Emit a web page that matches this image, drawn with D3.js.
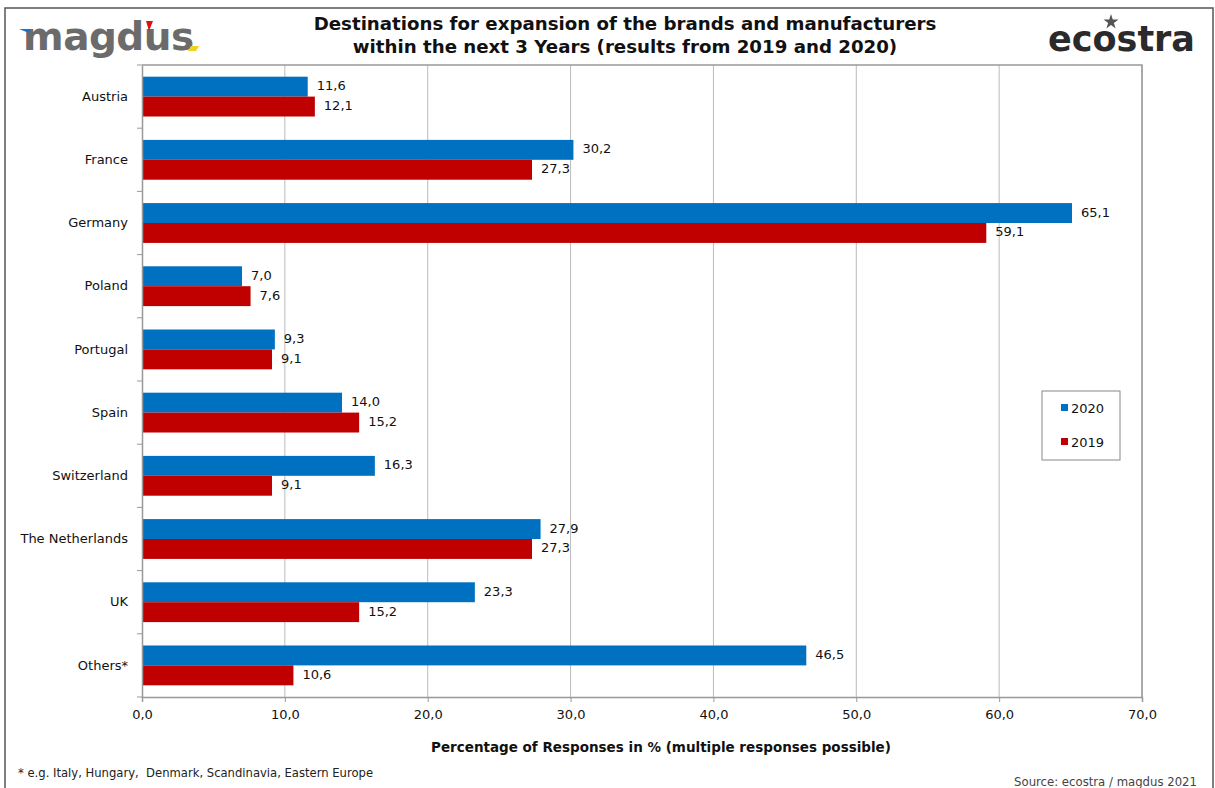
<!DOCTYPE html>
<html>
<head>
<meta charset="utf-8">
<script src="https://cdn.jsdelivr.net/npm/d3@7"></script>
<style>
  body { margin: 0; background: #fff; }
  text { font-family: "DejaVu Sans", Verdana, sans-serif; white-space: pre; }
</style>
</head>
<body>
<div id="chart"></div>
<script>
// data
var countries = ["Austria", "France", "Germany", "Poland", "Portugal", "Spain",
                 "Switzerland", "The Netherlands", "UK", "Others*"];
var values2020 = [11.6, 30.2, 65.1, 7.0, 9.3, 14.0, 16.3, 27.9, 23.3, 46.5];
var values2019 = [12.1, 27.3, 59.1, 7.6, 9.1, 15.2, 9.1, 27.3, 15.2, 10.6];
var seriesNames = ["2020", "2019"];
var seriesColors = ["#0070C0", "#C00000"];
var xTicks = [0, 10, 20, 30, 40, 50, 60, 70];

var width = 1215, height = 788;
var margin = {left: 142, right: 73, top: 65, bottom: 91};

var svg = d3.select("#chart").append("svg")
    .attr("width", width)
    .attr("height", height);

// outer frame
svg.append("rect")
    .attr("x", 5).attr("y", 8)
    .attr("width", 1208).attr("height", 790)
    .attr("fill", "none")
    .attr("stroke", "#555")
    .attr("stroke-width", 1.5);

var x = d3.scaleLinear().domain([0, 70]).range([margin.left, width - margin.right]);
var y = d3.scaleBand().domain(countries).range([margin.top, height - margin.bottom])
    .paddingInner(0.37).paddingOuter(0.185);
var ySub = d3.scaleBand().domain(seriesNames).range([0, y.bandwidth()]);

// gridlines
svg.append("g").selectAll("line")
    .data(xTicks.slice(1))
    .enter().append("line")
    .attr("x1", function (d) { return x(d); })
    .attr("x2", function (d) { return x(d); })
    .attr("y1", margin.top)
    .attr("y2", height - margin.bottom)
    .attr("stroke", "#bbb")
    .attr("stroke-width", 1);

// plot border (top + right)
svg.append("path")
    .attr("d", "M" + x(0) + "," + margin.top + "H" + x(70) + "V" + (height - margin.bottom))
    .attr("fill", "none")
    .attr("stroke", "#999")
    .attr("stroke-width", 1.5);

// bars
var rows = countries.map(function (c, i) {
    return {country: c, vals: [values2020[i], values2019[i]]};
});

var groups = svg.append("g").selectAll("g")
    .data(rows)
    .enter().append("g")
    .attr("transform", function (d) { return "translate(0," + y(d.country) + ")"; });

groups.selectAll("rect")
    .data(function (d) { return d.vals.map(function (v, k) { return {s: seriesNames[k], v: v, k: k}; }); })
    .enter().append("rect")
    .attr("x", x(0))
    .attr("y", function (d) { return ySub(d.s); })
    .attr("width", function (d) { return x(d.v) - x(0); })
    .attr("height", ySub.bandwidth())
    .attr("fill", function (d) { return seriesColors[d.k]; });

groups.selectAll("text")
    .data(function (d) { return d.vals.map(function (v, k) { return {s: seriesNames[k], v: v}; }); })
    .enter().append("text")
    .attr("x", function (d) { return x(d.v) + 9; })
    .attr("y", function (d) { return ySub(d.s) + ySub.bandwidth() / 2 - 1; })
    .attr("dy", "0.35em")
    .attr("font-size", 13)
    .attr("fill", "#111")
    .text(function (d) { return d.v.toFixed(1).replace(".", ","); });

// x axis
var xAxis = svg.append("g")
    .attr("transform", "translate(0," + (height - margin.bottom) + ")")
    .call(d3.axisBottom(x).tickValues(xTicks).tickSize(5).tickPadding(8)
        .tickFormat(function (d) { return d.toFixed(1).replace(".", ","); }));
xAxis.select(".domain").attr("stroke", "#999").attr("stroke-width", 1.5);
xAxis.selectAll(".tick line").attr("stroke", "#999");
xAxis.selectAll(".tick text").attr("font-size", 13).attr("fill", "#111")
    .attr("font-family", "DejaVu Sans, sans-serif");

// y axis
var yAxis = svg.append("g")
    .attr("transform", "translate(" + margin.left + ",0)")
    .call(d3.axisLeft(y).tickSize(0).tickPadding(14));
yAxis.select(".domain").attr("stroke", "#999").attr("stroke-width", 1.5);
yAxis.selectAll(".tick text").attr("font-size", 13).attr("fill", "#111")
    .attr("font-family", "DejaVu Sans, sans-serif");

// little ticks between categories
var step = y.step();
svg.append("g").selectAll("line")
    .data(d3.range(countries.length + 1))
    .enter().append("line")
    .attr("x1", margin.left - 5).attr("x2", margin.left)
    .attr("y1", function (i) { return margin.top + i * step; })
    .attr("y2", function (i) { return margin.top + i * step; })
    .attr("stroke", "#999");

// axis title
svg.append("text")
    .attr("x", 661)
    .attr("y", 752)
    .attr("text-anchor", "middle")
    .attr("font-size", 13.5)
    .attr("font-weight", "bold")
    .attr("fill", "#111")
    .text("Percentage of Responses in % (multiple responses possible)");

// title
var title = svg.append("text")
    .attr("text-anchor", "middle")
    .attr("font-size", 18.2)
    .attr("font-weight", "bold")
    .attr("fill", "#111");
title.append("tspan").attr("x", 625).attr("y", 30)
    .text("Destinations for expansion of the brands and manufacturers");
title.append("tspan").attr("x", 625).attr("y", 53)
    .text("within the next 3 Years (results from 2019 and 2020)");

// legend
var legend = svg.append("g").attr("transform", "translate(1042,391)");
legend.append("rect")
    .attr("width", 78).attr("height", 69)
    .attr("fill", "#fff").attr("stroke", "#888");
seriesNames.forEach(function (s, k) {
    legend.append("rect")
        .attr("x", 19).attr("y", 13 + k * 34)
        .attr("width", 7).attr("height", 7)
        .attr("fill", seriesColors[k]);
    legend.append("text")
        .attr("x", 29).attr("y", 17 + k * 34)
        .attr("dy", "0.35em")
        .attr("font-size", 13)
        .attr("fill", "#111")
        .text(s);
});

// footnote + source
svg.append("text")
    .attr("x", 18).attr("y", 777)
    .attr("font-size", 11.6)
    .attr("fill", "#222")
    .text("* e.g. Italy, Hungary,  Denmark, Scandinavia, Eastern Europe");
svg.append("text")
    .attr("x", 1197).attr("y", 786)
    .attr("text-anchor", "end")
    .attr("font-size", 11.7)
    .attr("fill", "#444")
    .text("Source: ecostra / magdus 2021");

// logos (as text)
var mag = svg.append("g");
mag.append("text")
    .attr("x", 23).attr("y", 50)
    .attr("font-size", 39)
    .attr("font-weight", "900")
    .attr("font-family", "Liberation Sans, Arial, sans-serif")
    .attr("letter-spacing", -0.5)
    .attr("fill", "#6b6b6b")
    .text("magdus");
mag.append("path").attr("d", "M19,29 L31,29 L29,33 Z").attr("fill", "#1a73c8");
mag.append("path").attr("d", "M146,21 L153,21 L149,31 Z").attr("fill", "#e01010");
mag.append("path").attr("d", "M191,46 L199,46 L196,51 L188,51 Z").attr("fill", "#f2d21a");

svg.append("text")
    .attr("x", 1195).attr("y", 51)
    .attr("text-anchor", "end")
    .attr("font-size", 35)
    .attr("font-family", "Open Sans, sans-serif")
    .attr("font-weight", "600")
    .attr("fill", "#2a2a2a")
    .text("ecostra");
svg.append("path")
    .attr("d", d3.symbol().type(d3.symbolStar).size(70)())
    .attr("transform", "translate(1111,22)")
    .attr("fill", "#555");
</script>
</body>
</html>
